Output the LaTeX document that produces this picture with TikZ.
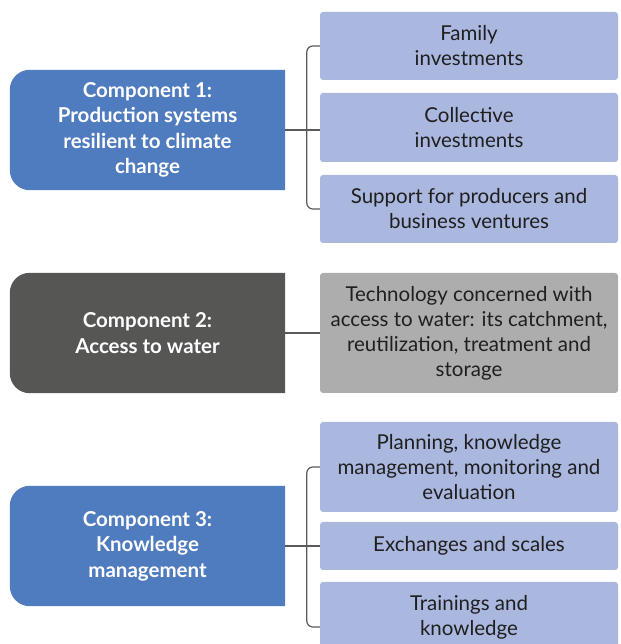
\documentclass[tikz,border=0pt]{standalone}
\usepackage{fontspec}
\setmainfont{Lato}
\usetikzlibrary{backgrounds}
\definecolor{compblue}{HTML}{4F7BBF}
\definecolor{compgray}{HTML}{565655}
\definecolor{itemblue}{HTML}{AAB7DF}
\definecolor{itemgray}{HTML}{ADADAD}
\definecolor{linegray}{HTML}{5A5A5A}
\tikzset{
  comp/.style={minimum width=275pt,minimum height=120pt,align=center,
    text=white,font=\fontsize{20.5}{25.5}\selectfont\bfseries},
  item/.style={rounded corners=3pt,minimum width=298pt,align=center,
    text=black!88,font=\fontsize{20.5}{25}\selectfont,inner sep=0pt},
  link/.style={draw=linegray,line width=1.2pt}
}
% left box: rounded on the left side only
\def\compbox#1#2{\fill[#2] (#1.north east) -- ([xshift=20pt]#1.north west)
  arc[start angle=90,end angle=180,radius=20pt] -- ([yshift=20pt]#1.south west)
  arc[start angle=180,end angle=270,radius=20pt] -- (#1.south east) -- cycle;}
\begin{document}
\begin{tikzpicture}[x=1pt,y=1pt]
		\useasboundingbox (0,0) rectangle (620,644);
		% components
		\node[comp] (c1) at (147.5,514) {Component 1:\\Production systems\\resilient to climate\\change};
		\node[comp] (c2) at (147.5,311) {Component 2:\\Access to water};
		\node[comp] (c3) at (147.5,98) {Component 3:\\Knowledge\\management};
		\begin{scope}[on background layer]
		\compbox{c1}{compblue}
		\compbox{c2}{compgray}
		\compbox{c3}{compblue}
		\end{scope}
		% items
		\node[item,fill=itemblue,minimum height=68pt] (r1a) at (469,598) {Family\\investments};
		\node[item,fill=itemblue,minimum height=69pt] (r1b) at (469,516.5) {Collective\\investments};
		\node[item,fill=itemblue,minimum height=68pt] (r1c) at (469,435) {Support for producers and\\business ventures};
		\node[item,fill=itemgray,minimum height=120pt] (r2) at (469,311) {Technology concerned with\\access to water: its catchment,\\reutilization, treatment and\\storage};
		\node[item,fill=itemblue,minimum height=90pt] (r3a) at (469,177) {Planning, knowledge\\management, monitoring and\\evaluation};
		\node[item,fill=itemblue,minimum height=48pt] (r3b) at (469,98) {Exchanges and scales};
		\node[item,fill=itemblue,minimum height=70pt] (r3c) at (469,27) {Trainings and\\knowledge};
		% connectors
		\draw[link] (c1.east) -- (r1b.west |- c1.east);
		\draw[link,rounded corners=6pt] (r1a.west) -- ++(-13,0) |- (r1c.west);
		\draw[link] (c2.east) -- (r2.west);
		\draw[link] (c3.east) -- (r3b.west);
		\draw[link,rounded corners=6pt] (r3a.west) -- ++(-13,0) |- ([yshift=-10pt]r3c.west);
		\end{tikzpicture}
\end{document}
